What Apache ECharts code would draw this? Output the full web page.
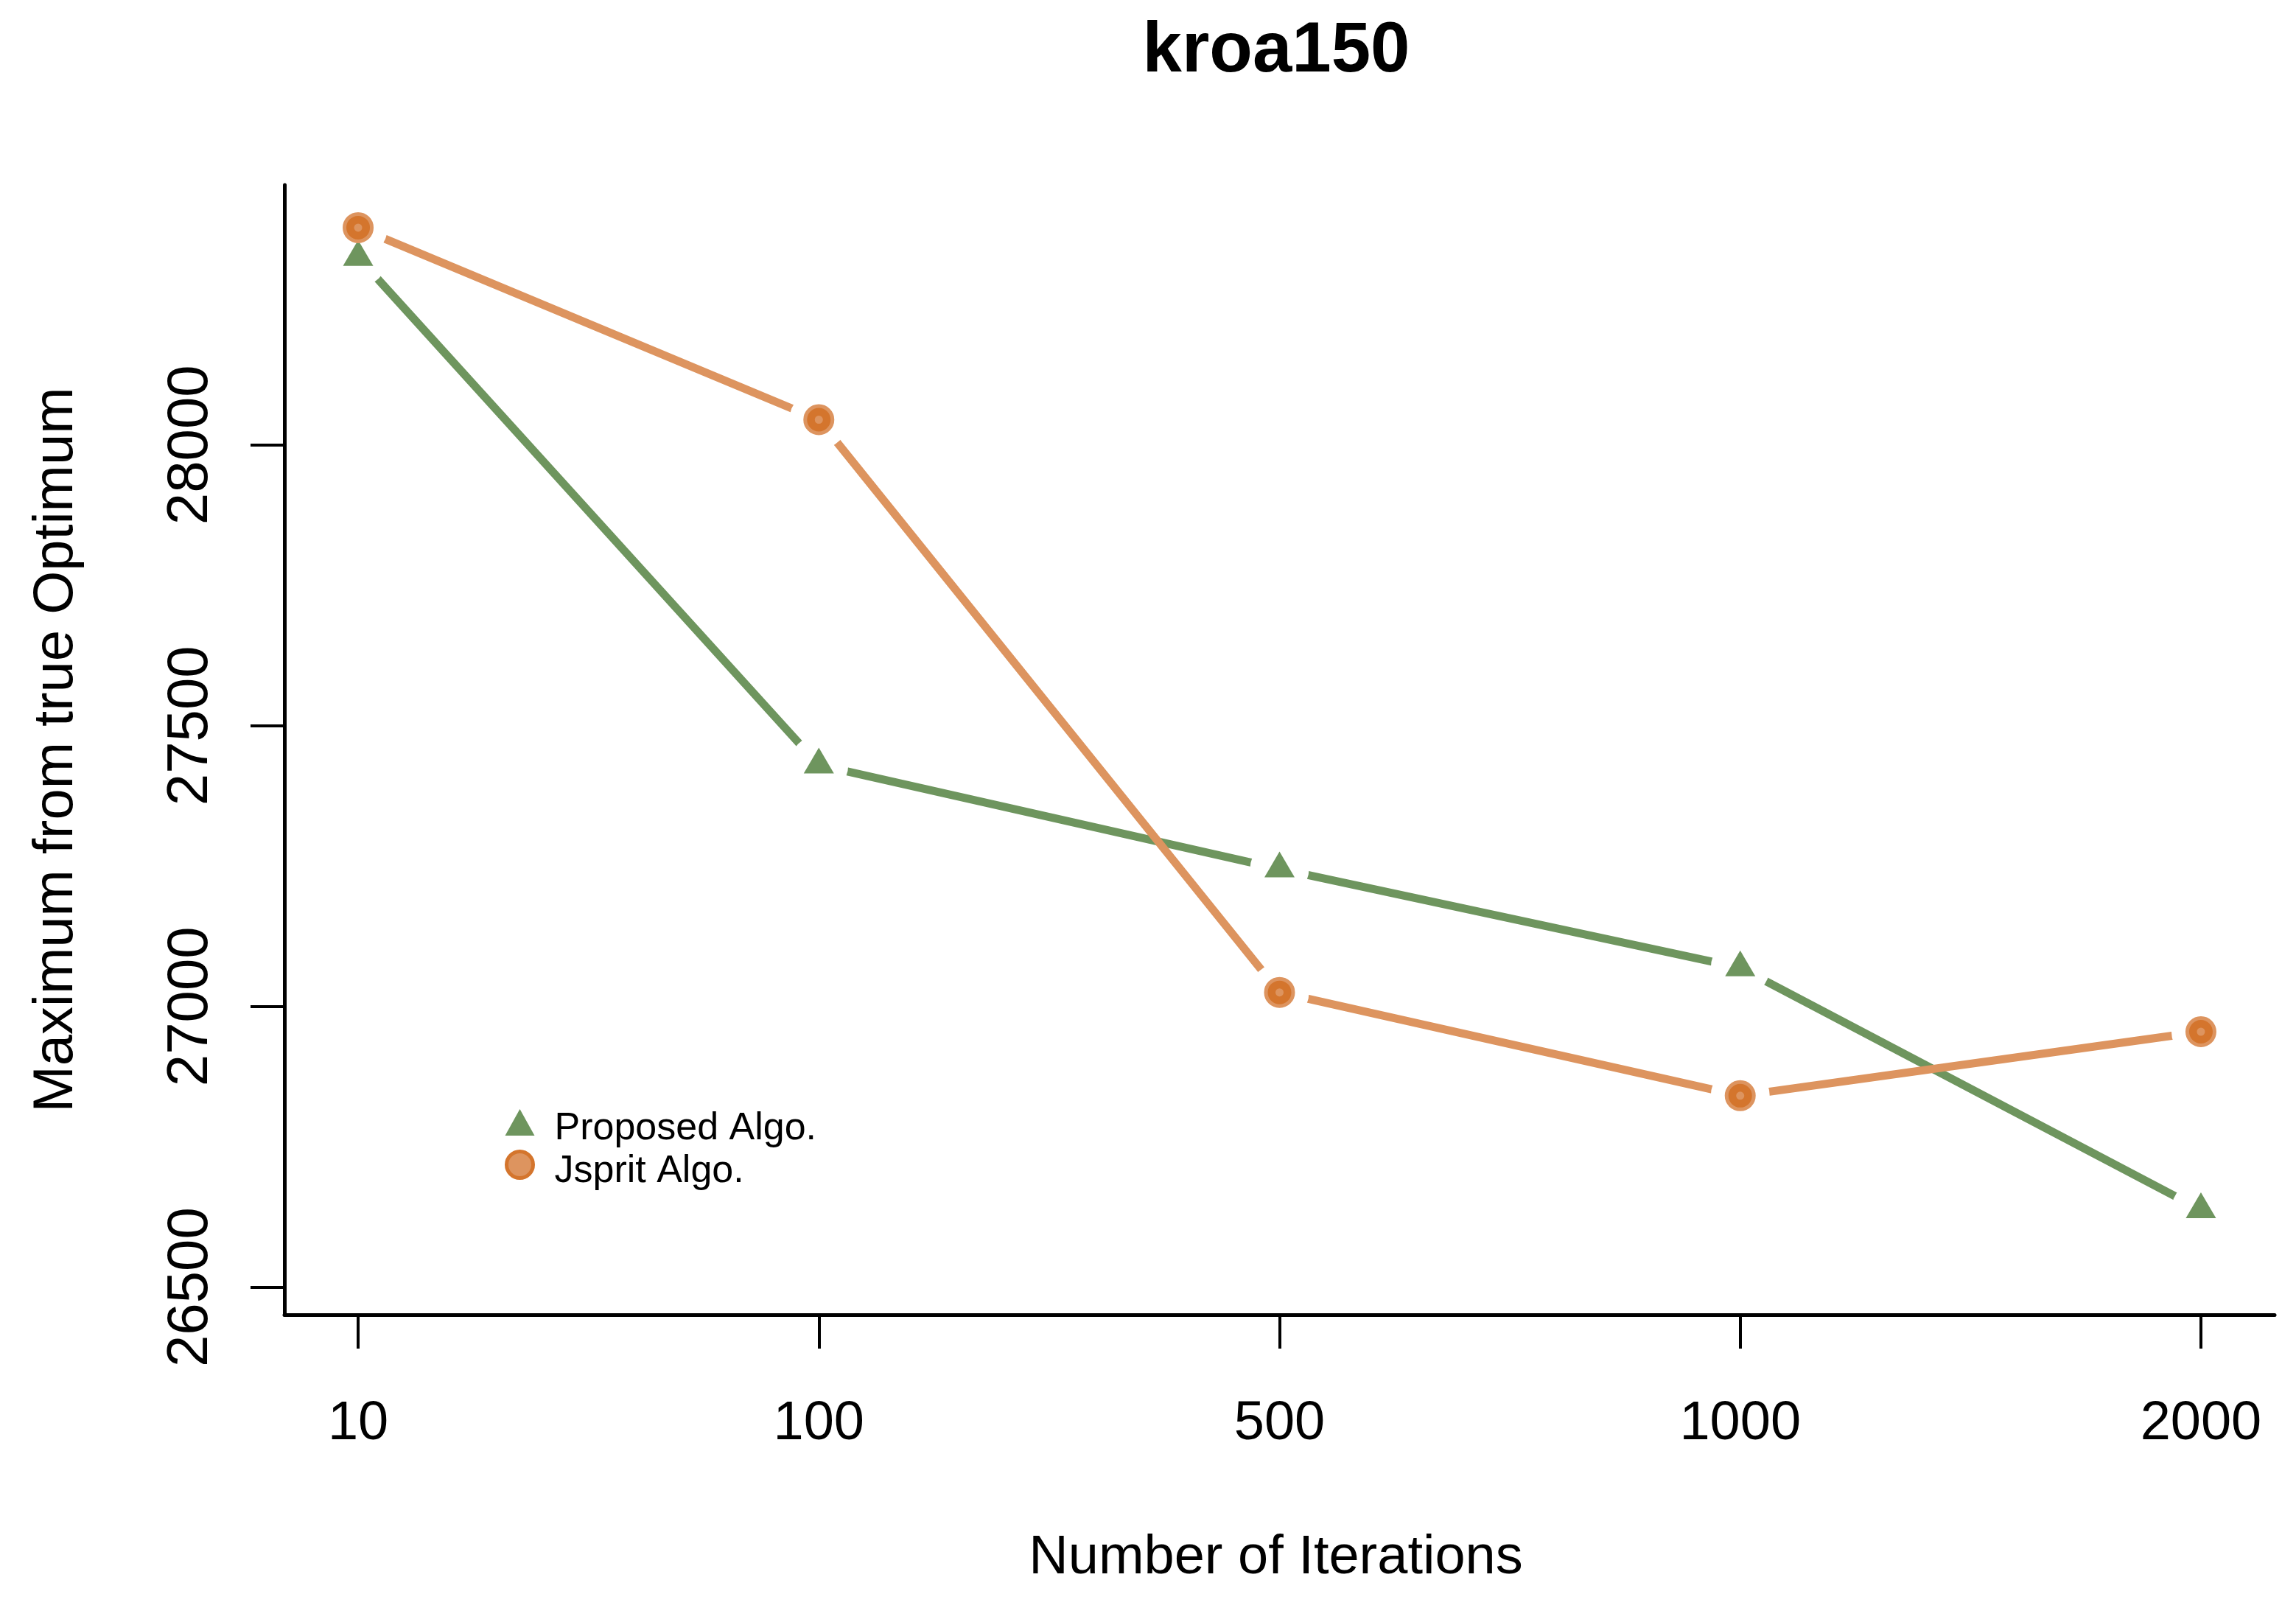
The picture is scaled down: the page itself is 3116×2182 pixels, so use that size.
<!DOCTYPE html>
<html>
<head>
<meta charset="utf-8">
<script src="https://cdn.jsdelivr.net/npm/echarts@6/dist/echarts.min.js"></script>
<style>
html,body{margin:0;padding:0;background:#fff;}
#chart{width:3116px;height:2182px;}
</style>
</head>
<body>
<div id="chart"></div>
<script>
const categories = ['10', '100', '500', '1000', '2000'];
const proposed = [28334, 27430, 27245, 27069, 26638];
const jsprit = [28387, 28045, 27025, 26841, 26955];
const yTicks = [26500, 27000, 27500, 28000];
const xTicks = [0, 1, 2, 3, 4];

const GREEN = '#6E955E';
const ORANGE = '#DD945F';
const ORANGE_DARK = '#D4752D';
const FONT = 'Liberation Sans';

const pts = arr => arr.map((v, i) => [i, v]);

const chart = echarts.init(document.getElementById('chart'));
chart.setOption({
  backgroundColor: '#ffffff',
  animation: false,
  title: {
    text: 'kroa150',
    left: 1727,
    textAlign: 'center',
    top: 18,
    textStyle: { fontFamily: FONT, fontSize: 96, fontWeight: 'bold', color: '#000' }
  },
  legend: {
    orient: 'vertical',
    left: 680,
    top: 1500,
    itemWidth: 40,
    itemHeight: 36,
    itemGap: 2,
    data: [
      { name: 'Proposed Algo.', icon: 'triangle', itemStyle: { color: GREEN, borderWidth: 0, opacity: 1 } },
      { name: 'Jsprit Algo.', icon: 'circle', itemStyle: { color: ORANGE, borderColor: ORANGE_DARK, borderWidth: 5, opacity: 1 } }
    ],
    formatter: name => '{t|' + name + '}',
    textStyle: {
      fontFamily: FONT, fontSize: 52, color: '#000',
      rich: { t: { fontFamily: FONT, fontSize: 52, color: '#000', padding: [18, 0, 0, 22] } }
    }
  },
  grid: { left: 386, top: 251, right: 29, bottom: 398, containLabel: false },
  xAxis: {
    type: 'value',
    min: -0.16,
    max: 4.16,
    axisLine: { show: true, onZero: false, lineStyle: { color: '#000', width: 5 } },
    axisTick: { show: true, customValues: xTicks, length: 46, lineStyle: { color: '#000', width: 4 } },
    axisLabel: {
      customValues: xTicks,
      formatter: v => categories[Math.round(v)],
      margin: 112,
      fontFamily: FONT, fontSize: 74, color: '#000'
    },
    splitLine: { show: false },
    name: 'Number of Iterations',
    nameLocation: 'middle',
    nameGap: 294,
    nameTextStyle: { fontFamily: FONT, fontSize: 74, color: '#000', padding: [0, 10, 0, 0] }
  },
  yAxis: {
    type: 'value',
    min: 26451,
    max: 28463,
    axisLine: { show: true, onZero: false, lineStyle: { color: '#000', width: 5 } },
    axisTick: { show: true, customValues: yTicks, length: 46, lineStyle: { color: '#000', width: 4 } },
    axisLabel: {
      customValues: yTicks,
      formatter: v => String(v),
      rotate: 90,
      margin: 88,
      fontFamily: FONT, fontSize: 78, color: '#000'
    },
    splitLine: { show: false },
    name: 'Maximum from true Optimum',
    nameLocation: 'middle',
    nameRotate: 90,
    nameGap: 271,
    nameTextStyle: { fontFamily: FONT, fontSize: 76, color: '#000' }
  },
  series: [
    {
      name: 'Proposed Algo.', type: 'line', data: pts(proposed), symbol: 'none',
      lineStyle: { color: GREEN, width: 11 }, itemStyle: { color: GREEN }, z: 2, silent: true
    },
    {
      name: 'Jsprit Algo.', type: 'line', data: pts(jsprit), symbol: 'none',
      lineStyle: { color: ORANGE, width: 11 }, itemStyle: { color: ORANGE }, z: 2, silent: true
    },
    {
      name: 'gapP', type: 'scatter', data: pts(proposed), symbol: 'circle', symbolSize: 80,
      itemStyle: { color: '#ffffff', opacity: 1 }, z: 3, silent: true
    },
    {
      name: 'gapJ', type: 'scatter', data: pts(jsprit), symbol: 'circle', symbolSize: 80,
      itemStyle: { color: '#ffffff', opacity: 1 }, z: 3, silent: true
    },
    {
      name: 'Proposed Algo.', type: 'scatter', data: pts(proposed), symbol: 'triangle',
      symbolSize: [41, 35], symbolOffset: [0, -6],
      itemStyle: { color: GREEN, opacity: 1 }, z: 4
    },
    {
      name: 'Jsprit Algo.', type: 'scatter', data: pts(jsprit), symbol: 'circle', symbolSize: 37,
      itemStyle: { color: ORANGE_DARK, borderColor: ORANGE, borderWidth: 5, opacity: 1 }, z: 4
    },
    {
      name: 'centerJ', type: 'scatter', data: pts(jsprit), symbol: 'circle', symbolSize: 11,
      itemStyle: { color: ORANGE, opacity: 1 }, z: 5, silent: true
    }
  ]
});
</script>
</body>
</html>
